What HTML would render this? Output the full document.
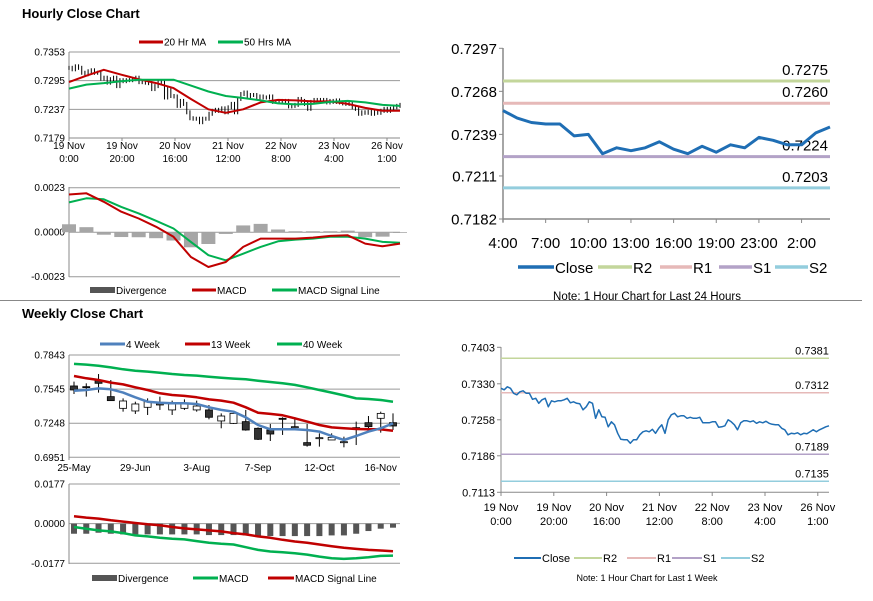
<!DOCTYPE html>
<html><head><meta charset="utf-8"><style>
html,body{margin:0;padding:0;background:#fff;}
svg{display:block;font-family:"Liberation Sans",Arial,sans-serif;}
</style></head><body>
<svg id="chart" width="873" height="601" viewBox="0 0 873 601" xmlns="http://www.w3.org/2000/svg">
<rect x="0" y="0" width="873" height="601" fill="#fff"/>
<text x="22" y="18" font-size="13" font-weight="bold">Hourly Close Chart</text>
<line x1="0" y1="300.5" x2="862" y2="300.5" stroke="#888" stroke-width="1"/>
<text x="22" y="318" font-size="13" font-weight="bold">Weekly Close Chart</text>
</svg>
<script>
// ---------- DATA ----------
const hourlyClose=[.7321,.7318,.7324,.7321,.7311,.7308,.7314,.7316,.7311,.7311,.7299,.7301,.7291,.7298,.7301,.7284,.7296,.7294,.7296,.7296,.7298,.7301,.7292,.7294,.7291,.7290,.7278,.7284,.7294,.7291,.7261,.7278,.7264,.7263,.7244,.7254,.7248,.7231,.7219,.7218,.7218,.7211,.7218,.7218,.7228,.7234,.7236,.7234,.7239,.7231,.7241,.7248,.7231,.7258,.7268,.7271,.7264,.7266,.7266,.7261,.7263,.7261,.7261,.7263,.7252,.7252,.7252,.7254,.7254,.7243,.7244,.7246,.7258,.7254,.7248,.7238,.7252,.7256,.7256,.7254,.7256,.7251,.7254,.7252,.7255,.7251,.7249,.7248,.7248,.7241,.7238,.7228,.7231,.7230,.7232,.7228,.7231,.7230,.7234,.7238,.7234,.7238,.7241,.7244,.7246];
const ma20=[.7292,.7305,.7317,.7307,.7298,.7290,.7280,.7258,.7237,.7230,.7237,.7251,.7256,.7255,.7253,.7253,.7248,.7240,.7234,.7234];
const ma50=[.7279,.7287,.7290,.7294,.7297,.7297,.7297,.7285,.7273,.7264,.7260,.7255,.7249,.7247,.7248,.7252,.7254,.7251,.7246,.7244];
const hourlyXLabels=[["19 Nov","0:00"],["19 Nov","20:00"],["20 Nov","16:00"],["21 Nov","12:00"],["22 Nov","8:00"],["23 Nov","4:00"],["26 Nov","1:00"]];
const hourlyPriceTicks=[0.7179,0.7237,0.7295,0.7353];
const hMacd=[.00195,.00201,.00157,.00106,.00071,.00028,-.00024,-.00128,-.0018,-.00154,-.00076,-.00033,-.00033,-.00033,-.00028,-.00019,-.00016,-.00059,-.00073,-.00059];
const hSignal=[.00154,.00175,.0017,.00131,.00097,.00059,.00019,-.0005,-.00119,-.00145,-.00111,-.00076,-.00047,-.00038,-.00033,-.00024,-.00024,-.00033,-.0005,-.00055];
const hMacdTicks=[-0.0023,0,0.0023];
const dayClose=[.7255,.7250,.7247,.7246,.7246,.7238,.7239,.7226,.7230,.7228,.7230,.7234,.7229,.7226,.7231,.7227,.7232,.7230,.7237,.7235,.7232,.7232,.7240,.7244];
const dayLevels=[0.7275,0.7260,0.7224,0.7203];
const dayTicks=[0.7182,0.7211,0.7239,0.7268,0.7297];
const dayXLabels=["4:00","7:00","10:00","13:00","16:00","19:00","23:00","2:00"];
const weekLevels=[0.7381,0.7312,0.7189,0.7135];
const weekLevelTicks=[0.7113,0.7186,0.7258,0.7330,0.7403];
const wOpen =[.7573,.7567,.7625,.7480,.7378,.7355,.7387,.7416,.7364,.7378,.7364,.7364,.7268,.7247,.7262,.7204,.7189,.7291,.7218,.7079,.7122,.7102,.7087,.7210,.7253,.7291,.7253];
const wClose=[.7538,.7561,.7596,.7445,.7442,.7416,.7436,.7416,.7416,.7416,.7398,.7300,.7311,.7334,.7189,.7108,.7154,.7282,.7218,.7056,.7122,.7125,.7087,.7210,.7218,.7334,.7224];
const wHigh =[.7611,.7596,.7677,.7625,.7465,.7436,.7465,.7480,.7445,.7456,.7445,.7407,.7334,.7349,.7364,.7212,.7242,.7300,.7300,.7242,.7160,.7160,.7131,.7262,.7311,.7349,.7334];
const wLow  =[.7503,.7480,.7515,.7445,.7349,.7329,.7320,.7364,.7320,.7364,.7349,.7282,.7204,.7242,.7183,.7102,.7093,.7146,.7189,.7044,.7044,.7102,.7038,.7058,.7204,.7166,.7189];
const wk4 =[.7532,.7538,.7552,.7544,.7515,.7474,.7436,.7427,.7422,.7422,.7416,.7387,.7364,.7349,.7300,.7233,.7195,.7195,.7195,.7189,.7175,.7137,.7102,.7137,.7175,.7204,.7247];
const wk13=[.7660,.7640,.7625,.7602,.7587,.7561,.7538,.7509,.7494,.7486,.7474,.7456,.7445,.7427,.7387,.7340,.7329,.7317,.7291,.7262,.7233,.7212,.7204,.7198,.7195,.7195,.7183];
const wk40=[.7765,.7759,.7750,.7735,.7718,.7706,.7698,.7689,.7677,.7669,.7663,.7654,.7645,.7637,.7631,.7619,.7608,.7596,.7582,.7561,.7538,.7515,.7491,.7465,.7459,.7451,.7436];
const weekXLabels=["25-May","29-Jun","3-Aug","7-Sep","12-Oct","16-Nov"];
const weekXIdx=[0,5,10,15,20,25];
const weekTicks=[0.6951,0.7248,0.7545,0.7843];
const wMacd=[-.0015,-.00225,-.003,-.00345,-.0042,-.00525,-.0057,-.0063,-.00675,-.00705,-.0078,-.00855,-.009,-.0093,-.0105,-.0117,-.01245,-.01275,-.0132,-.0138,-.0147,-.01545,-.01575,-.01545,-.015,-.0144,-.01425];
const wSignal=[.0033,.0027,.00225,.0015,.0009,.0003,-.0003,-.00075,-.0015,-.0021,-.00255,-.003,-.00345,-.0042,-.0048,-.0057,-.0063,-.0072,-.00795,-.00855,-.0093,-.01005,-.0108,-.01125,-.0117,-.012,-.0123];
const wDiv=[-.0045,-.0045,-.00405,-.0045,-.0048,-.0048,-.0048,-.0048,-.0048,-.0048,-.0048,-.0051,-.0051,-.0051,-.00525,-.00555,-.00555,-.00555,-.00555,-.00555,-.00555,-.00525,-.00525,-.0045,-.0033,-.00225,-.0018];
const wMacdTicks=[-0.0177,0,0.0177];

// ---------- HELPERS ----------
const NS="http://www.w3.org/2000/svg";
const svg=document.getElementById('chart');
function mk(tag,attrs,parent){const e=document.createElementNS(NS,tag);for(const k in attrs)e.setAttribute(k,attrs[k]);(parent||svg).appendChild(e);return e;}
function lin(d0,d1,r0,r1){return v=>r0+(v-d0)/(d1-d0)*(r1-r0);}
function txt(x,y,s,size,anchor,parent){const t=mk('text',{x:x,y:y,'font-size':size,'text-anchor':anchor||'start',fill:'#000'},parent);t.textContent=s;return t;}
function poly(vals,xf,yf,color,w,parent){return mk('polyline',{points:vals.map((v,i)=>xf(i).toFixed(1)+','+yf(v).toFixed(1)).join(' '),fill:'none',stroke:color,'stroke-width':w,'stroke-linejoin':'round'},parent);}
function grp(){return mk('g',{});}
const RED="#c00000",GRN="#00b050",BLUE="#4f81bd",DBLUE="#1f6eb4";

// ===== Chart 1: hourly price =====
{const g=grp();


const L=69,R=400,x=i=>L+i*(R-L)/(hourlyClose.length-1),xm=i=>L+i*(R-L)/(ma20.length-1),y=lin(0.7179,0.7353,138,52);
hourlyPriceTicks.forEach(t=>{const gl=mk('line',{x1:L,x2:R,y1:y(t),y2:y(t),stroke:t===0.7179?'#888':'#999','stroke-width':1},g);


const tl=txt(L-4,y(t)+3.5,t.toFixed(4),10,'end',g);

});
mk('line',{x1:L,x2:L,y1:52,y2:141,stroke:'#888'},g);
hourlyXLabels.forEach((lb,i)=>{const xx=L+i*53;mk('line',{x1:xx,x2:xx,y1:138,y2:141,stroke:'#888'},g);
const a=txt(xx,149,lb[0],10,'middle',g);
const b=txt(xx,162,lb[1],10,'middle',g);});
hourlyClose.forEach((v,i)=>{const p=i?hourlyClose[i-1]:v;const hi=Math.max(p,v),lo=Math.min(p,v);
const b=mk('line',{x1:x(i),x2:x(i),y1:y(hi)-2,y2:y(lo)+2,stroke:'#000','stroke-width':1},g);

});
const r=poly(ma20,xm,y,RED,2,g);
const gr=poly(ma50,xm,y,GRN,2,g);
mk('line',{x1:139,x2:163,y1:42,y2:42,stroke:RED,'stroke-width':3},g);
const l1=txt(164,45.5,'20 Hr MA',10,'start',g);
mk('line',{x1:218,x2:243,y1:42,y2:42,stroke:GRN,'stroke-width':3},g);
const l2=txt(244,45.5,'50 Hrs MA',10,'start',g);}

// ===== Chart 2: hourly MACD =====
{const g=grp();


const L=69,R=400,n=hMacd.length,x=i=>L+i*(R-L)/(n-1),y=lin(-0.0023,0.0023,276.7,187.7);
hMacdTicks.forEach(t=>{mk('line',{x1:L,x2:R,y1:y(t),y2:y(t),stroke:'#999'},g);
const tl=txt(L-4,y(t)+3.5,t.toFixed(4),10,'end',g);});
mk('line',{x1:L,x2:L,y1:187,y2:277,stroke:'#888'},g);
hMacd.forEach((v,i)=>{const d=v-hSignal[i];const b=mk('rect',{x:x(i)-7,width:14,y:Math.min(y(d),y(0)),height:Math.abs(y(d)-y(0)),fill:'#a6a6a6'},g);

});
const s=poly(hSignal,x,y,GRN,2,g);
const m=poly(hMacd,x,y,RED,2,g);
mk('rect',{x:90,y:287,width:25,height:6,fill:'#555'},g);
const a=txt(116,294,'Divergence',10,'start',g);
mk('line',{x1:192,x2:216,y1:290,y2:290,stroke:RED,'stroke-width':3},g);
const b=txt(217,294,'MACD',10,'start',g);
mk('line',{x1:272,x2:297,y1:290,y2:290,stroke:GRN,'stroke-width':3},g);
const c=txt(298,294,'MACD Signal Line',10,'start',g);}

// ===== Chart 3: 24h close with pivots =====
const lvlColors=["#c3d69b","#e6b9b8","#b3a2c7","#93cddd"];
const lvlNames=["R2","R1","S1","S2"];
{const g=grp();


const L=503,R=830,n=dayClose.length,x=i=>L+i*(R-L)/(n-1),y=lin(0.7182,0.7297,219,48.3);
mk('line',{x1:L,x2:L,y1:48,y2:222,stroke:'#888','stroke-width':1.5},g);
mk('line',{x1:L,x2:R,y1:219,y2:219,stroke:'#888','stroke-width':1.5},g);
dayTicks.forEach(t=>{mk('line',{x1:L-4,x2:L,y1:y(t),y2:y(t),stroke:'#888'},g);
const tl=txt(L-6,y(t)+5.5,t.toFixed(4),15,'end',g);});
dayXLabels.forEach((s,i)=>{const xx=L+i*3*(R-L)/(n-1);mk('line',{x1:xx,x2:xx,y1:219,y2:223,stroke:'#888'},g);
const tl=txt(xx,248,s,15,'middle',g);});
dayLevels.forEach((v,i)=>{const ln=mk('line',{x1:L,x2:R,y1:y(v),y2:y(v),stroke:lvlColors[i],'stroke-width':3},g);


const tl=txt(828,y(v)-6,v.toFixed(4),15,'end',g);

});
const c=poly(dayClose,x,y,DBLUE,3,g);
mk('line',{x1:518,x2:554,y1:267,y2:267,stroke:DBLUE,'stroke-width':3.5},g);
const lc=txt(555,273,'Close',15,'start',g);
[[598,632],[660,692],[719,752],[775,808]].forEach((p,i)=>{mk('line',{x1:p[0],x2:p[1],y1:267,y2:267,stroke:lvlColors[i],'stroke-width':3.5},g);
const t=txt(p[1]+1,273,lvlNames[i],15,'start',g);

});
const nt=txt(647,300,'Note: 1 Hour Chart for Last 24 Hours',11.5,'middle',g);}

// ===== Chart 4: week close with pivots =====
{const g=grp();


const L=501,R=829,n=hourlyClose.length,x=i=>L+i*(R-L)/(n-1),y=lin(0.7113,0.7403,492.3,347.3);
mk('line',{x1:L,x2:L,y1:347,y2:495,stroke:'#888'},g);
mk('line',{x1:L,x2:R,y1:492.3,y2:492.3,stroke:'#888'},g);
weekLevelTicks.forEach(t=>{mk('line',{x1:L-4,x2:L,y1:y(t),y2:y(t),stroke:'#888'},g);
const tl=txt(L-6,y(t)+4,t.toFixed(4),11,'end',g);});
hourlyXLabels.forEach((lb,i)=>{const xx=L+i*52.8;mk('line',{x1:xx,x2:xx,y1:492,y2:496,stroke:'#888'},g);
const a=txt(xx,511,lb[0],11,'middle',g);
const b=txt(xx,525,lb[1],11,'middle',g);});
weekLevels.forEach((v,i)=>{const ln=mk('line',{x1:L,x2:R,y1:y(v),y2:y(v),stroke:lvlColors[i],'stroke-width':1.5},g);


const tl=txt(812,y(v)-4,v.toFixed(4),11,'middle',g);

});
const c=poly(hourlyClose,x,y,DBLUE,1.5,g);
mk('line',{x1:514,x2:541,y1:558,y2:558,stroke:DBLUE,'stroke-width':2},g);
const lc=txt(542,562,'Close',11,'start',g);
[[574,602],[627,656],[672,702],[721,750]].forEach((p,i)=>{mk('line',{x1:p[0],x2:p[1],y1:558,y2:558,stroke:lvlColors[i],'stroke-width':2},g);
const t=txt(p[1]+1,562,lvlNames[i],11,'start',g);

});
const nt=txt(647,581,'Note: 1 Hour Chart for Last 1 Week',9,'middle',g);}

// ===== Chart 5: weekly candles =====
{const g=grp();


const L=69,R=400,n=wOpen.length,x=i=>74+i*(393-74)/(n-1),y=lin(0.6951,0.7843,457.3,355);
weekTicks.forEach(t=>{mk('line',{x1:L,x2:R,y1:y(t),y2:y(t),stroke:'#999'},g);
const tl=txt(L-4,y(t)+3.5,t.toFixed(4),10,'end',g);});
mk('line',{x1:L,x2:L,y1:355,y2:460,stroke:'#888'},g);
weekXLabels.forEach((s,k)=>{const xx=x(weekXIdx[k]);
const tl=txt(xx,471,s,10,'middle',g);});
wOpen.forEach((o,i)=>{const c=wClose[i];
const w=mk('line',{x1:x(i),x2:x(i),y1:y(wHigh[i]),y2:y(wLow[i]),stroke:'#000'},g);


const top=y(Math.max(o,c)),h=Math.max(1,Math.abs(y(o)-y(c)));
const b=mk('rect',{x:x(i)-3.5,y:top,width:7,height:h,fill:c<o?'#333':'#fff',stroke:'#000','stroke-width':0.8},g);

});
const l40=poly(wk40,x,y,GRN,2.5,g);
const l13=poly(wk13,x,y,RED,2.5,g);
const l4=poly(wk4,x,y,BLUE,2.5,g);
mk('line',{x1:100,x2:125,y1:344,y2:344,stroke:BLUE,'stroke-width':3},g);
const a=txt(126,348,'4 Week',10,'start',g);
mk('line',{x1:185,x2:210,y1:344,y2:344,stroke:RED,'stroke-width':3},g);
const b=txt(211,348,'13 Week',10,'start',g);
mk('line',{x1:277,x2:302,y1:344,y2:344,stroke:GRN,'stroke-width':3},g);
const c=txt(303,348,'40 Week',10,'start',g);}

// ===== Chart 6: weekly MACD =====
{const g=grp();


const L=69,R=400,n=wMacd.length,x=i=>74+i*(393-74)/(n-1),y=lin(-0.0177,0.0177,563.3,484);
wMacdTicks.forEach(t=>{mk('line',{x1:L,x2:R,y1:y(t),y2:y(t),stroke:'#999'},g);
const tl=txt(L-4,y(t)+3.5,t.toFixed(4),10,'end',g);});
mk('line',{x1:L,x2:L,y1:484,y2:564,stroke:'#888'},g);
wDiv.forEach((v,i)=>{const b=mk('rect',{x:x(i)-3,width:6,y:Math.min(y(v),y(0)),height:Math.abs(y(v)-y(0)),fill:'#555'},g);

});
const s=poly(wSignal,x,y,RED,2.5,g);
const m=poly(wMacd,x,y,GRN,2.5,g);
mk('rect',{x:92,y:575,width:25,height:6,fill:'#555'},g);
const a=txt(118,582,'Divergence',10,'start',g);
mk('line',{x1:193,x2:218,y1:578,y2:578,stroke:GRN,'stroke-width':3},g);
const b=txt(219,582,'MACD',10,'start',g);
mk('line',{x1:268,x2:294,y1:578,y2:578,stroke:RED,'stroke-width':3},g);
const c=txt(295,582,'MACD Signal Line',10,'start',g);}
</script>
</body></html>
